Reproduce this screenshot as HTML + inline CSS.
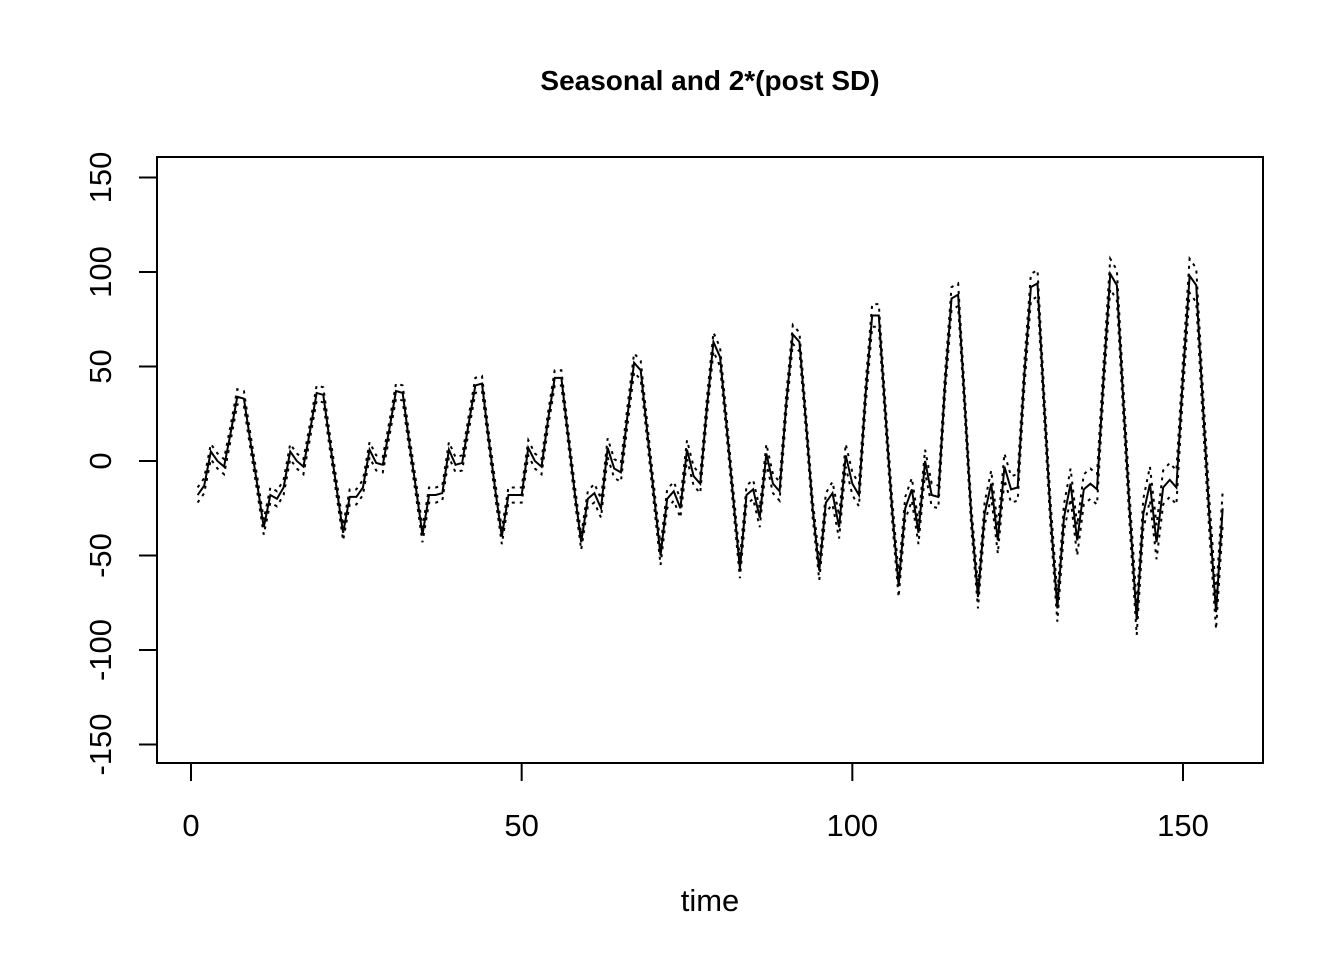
<!DOCTYPE html>
<html><head><meta charset="utf-8"><style>
body{margin:0;background:#fff}
svg text{font-family:"Liberation Sans",Arial,sans-serif}
</style></head><body>
<svg id="chart" width="1344" height="960" xmlns="http://www.w3.org/2000/svg">
<text x="710" y="90" text-anchor="middle" font-size="28" font-weight="bold">Seasonal and 2*(post SD)</text>
<rect x="157" y="157" width="1106" height="606" fill="none" stroke="#000" stroke-width="2"/>
<text x="710" y="911" text-anchor="middle" font-size="31">time</text>
<g id="xaxis"></g>
<g id="yaxis"></g>
<g id="series"></g>
</svg>
<script>
const xTicks=[0,50,100,150];
const yTicks=[-150,-100,-50,0,50,100,150];
const seasonal=[
-18,-13,5,0,-3,15,34,33,10,-12,-35,-18,
-20,-14,5,0,-3,16,36,35,10,-14,-38,-19,
-19,-14,6,-1,-2,17,37,36,10,-14,-39,-18,
-18,-17,6,-2,-1,20,40,41,12,-15,-40,-18,
-18,-18,7,0,-3,22,44,44,14,-16,-43,-20,
-17,-25,7,-4,-6,24,52,48,15,-18,-50,-20,
-16,-25,6,-8,-12,28,63,55,18,-20,-57,-18,
-15,-30,4,-12,-16,30,67,63,20,-25,-58,-22,
-17,-35,3,-12,-18,35,77,77,25,-25,-66,-25,
-15,-38,0,-18,-19,40,86,88,30,-30,-72,-28,
-12,-42,-3,-15,-14,45,92,94,30,-30,-78,-30,
-12,-42,-15,-12,-15,45,99,93,30,-30,-84,-28,
-12,-43,-14,-10,-14,45,98,93,30,-30,-80,-25];
const sdYear=[4,4,4,4,4,5,5,5,6,6,7,8,9];
const NS="http://www.w3.org/2000/svg";
const xs=t=>191+t*(1183-191)/150;
const ys=v=>461-v*(461-272)/100;
const X=document.getElementById('xaxis'),Y=document.getElementById('yaxis'),S=document.getElementById('series');
function mk(tag,attrs,parent){const e=document.createElementNS(NS,tag);for(const k in attrs)e.setAttribute(k,attrs[k]);parent.appendChild(e);return e;}
mk('line',{x1:xs(0),x2:xs(150),y1:763,y2:763,stroke:'#000','stroke-width':2},X);
xTicks.forEach(v=>{
 const l=mk('line',{x1:xs(v),x2:xs(v),y1:763,y2:781,stroke:'#000','stroke-width':2},X);
 
 
 const t=mk('text',{x:xs(v),y:836,'text-anchor':'middle','font-size':31},X);t.textContent=v;
 
 
});
mk('line',{x1:157,x2:157,y1:ys(-150),y2:ys(150),stroke:'#000','stroke-width':2},Y);
yTicks.forEach(v=>{
 const l=mk('line',{x1:139,x2:157,y1:ys(v),y2:ys(v),stroke:'#000','stroke-width':2},Y);
 
 
 const t=mk('text',{x:111,y:ys(v),'text-anchor':'middle','font-size':31,transform:`rotate(-90 111 ${ys(v)})`},Y);t.textContent=v;
 
 
});
function pts(f){return seasonal.map((v,i)=>xs(i+1)+','+ys(f(v,i))).join(' ');}
const up=mk('polyline',{points:pts((v,i)=>v+sdYear[Math.floor(i/12)]),fill:'none',stroke:'#000','stroke-width':2,'stroke-dasharray':'3,5'},S);


const lo=mk('polyline',{points:pts((v,i)=>v-sdYear[Math.floor(i/12)]),fill:'none',stroke:'#000','stroke-width':2,'stroke-dasharray':'3,5'},S);


const m=mk('polyline',{points:pts(v=>v),fill:'none',stroke:'#000','stroke-width':2},S);


</script>
</body></html>
